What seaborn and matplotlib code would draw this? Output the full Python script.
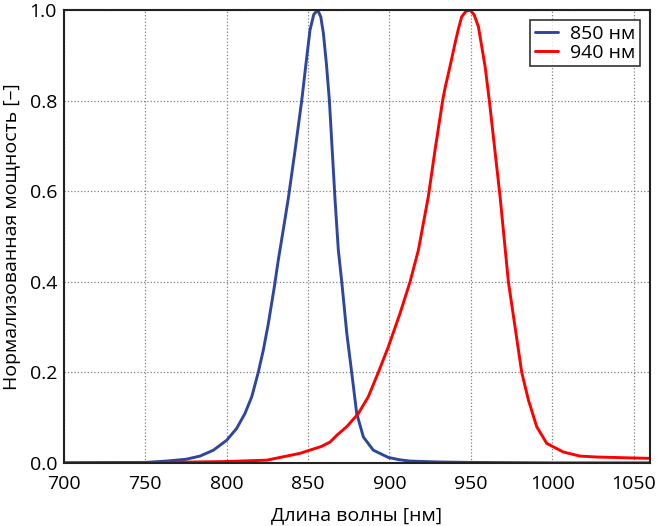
import matplotlib
matplotlib.use("Agg")
import matplotlib.pyplot as plt
import seaborn as sns
import pandas as pd

# 850 nm LED spectrum
nm_850 = [700, 750, 763, 775, 783.6, 791.8, 800, 806.1, 811.2, 815.4, 819.4, 822.5,
          825.6, 829.1, 831.8, 835, 837.9, 842, 846.1, 849, 851.2, 853.5, 855.9,
          857.8, 859.4, 861.3, 863.1, 866.6, 868.6, 870.7, 873.8, 876.8, 879.9,
          884, 890.1, 899.3, 906, 912.7, 930, 950, 1000, 1060]
pw_850 = [0.0, 0.001, 0.004, 0.008, 0.015, 0.028, 0.05, 0.076, 0.109, 0.146, 0.2,
          0.249, 0.308, 0.385, 0.45, 0.52, 0.585, 0.69, 0.8, 0.89, 0.956, 0.99, 1.0,
          0.985, 0.949, 0.88, 0.8, 0.58, 0.47, 0.4, 0.286, 0.2, 0.109, 0.057, 0.028,
          0.012, 0.007, 0.004, 0.002, 0.001, 0.0, 0.0]

# 940 nm LED spectrum
nm_940 = [700, 763, 800, 824.6, 845, 851, 858, 863.5, 868, 873.8, 880.9, 887, 893.2,
          899.3, 906.5, 912.7, 917.8, 923.9, 928, 932.7, 934.2, 937.2, 940.3, 942.5,
          944.4, 947, 949.5, 952, 954.7, 958.8, 961.4, 964.5, 968, 973.1, 977.2,
          981.3, 985.4, 990.5, 996.7, 1006.9, 1017.1, 1027, 1048, 1060]
pw_940 = [0.0, 0.001, 0.003, 0.006, 0.021, 0.028, 0.036, 0.046, 0.062, 0.08, 0.109,
          0.146, 0.2, 0.256, 0.33, 0.4, 0.47, 0.588, 0.69, 0.8, 0.828, 0.875, 0.926,
          0.96, 0.985, 0.997, 1.0, 0.99, 0.963, 0.875, 0.8, 0.7, 0.588, 0.4, 0.3,
          0.2, 0.139, 0.08, 0.043, 0.024, 0.015, 0.013, 0.011, 0.01]

labels = ["850 нм", "940 нм"]
colors = ["#2f46a0", "#ff0000"]

df = pd.concat([
    pd.DataFrame({"nm": nm_850, "p": pw_850, "led": labels[0]}),
    pd.DataFrame({"nm": nm_940, "p": pw_940, "led": labels[1]}),
])

sns.set_style("white")
plt.rcParams['font.family'] = ['Open Sans', 'DejaVu Sans']
plt.rcParams['text.color'] = 'black'
plt.rcParams['axes.labelcolor'] = 'black'
plt.rcParams['xtick.color'] = 'black'
plt.rcParams['ytick.color'] = 'black'

fig, ax = plt.subplots(figsize=(6.57, 5.26), dpi=100)
fig.subplots_adjust(left=0.0974, right=0.989, top=0.981, bottom=0.12)

sns.lineplot(data=df, x="nm", y="p", hue="led", palette=colors, linewidth=2.1,
             ax=ax, sort=False, estimator=None)

ax.set_xlim(700, 1060)
ax.set_ylim(0, 1.0)
ax.set_xticks([700, 750, 800, 850, 900, 950, 1000, 1050])
ax.set_yticks([0.0, 0.2, 0.4, 0.6, 0.8, 1.0])
ax.set_yticklabels(["0.0", "0.2", "0.4", "0.6", "0.8", "1.0"])
ax.grid(True, linestyle=':', color='#808080', linewidth=0.9)
ax.tick_params(labelsize=14, length=0)
ax.tick_params(axis='x', pad=9)
ax.tick_params(axis='y', pad=5)
for s in ax.spines.values():
    s.set_color('#222222')
    s.set_linewidth(1.5)

ax.set_xlabel("Длина волны [нм]", fontsize=14, labelpad=9)
ax.set_ylabel("Нормализованная мощность [–]", fontsize=14, labelpad=6)

leg = ax.legend(loc='upper right', fontsize=14, frameon=True, fancybox=False,
                handlelength=1.2, borderpad=0.25, labelspacing=0.05,
                borderaxespad=0.5, handletextpad=0.6)
leg.get_frame().set_edgecolor('black')
leg.get_frame().set_linewidth(1.2)

fig.savefig("out.png", dpi=100)
